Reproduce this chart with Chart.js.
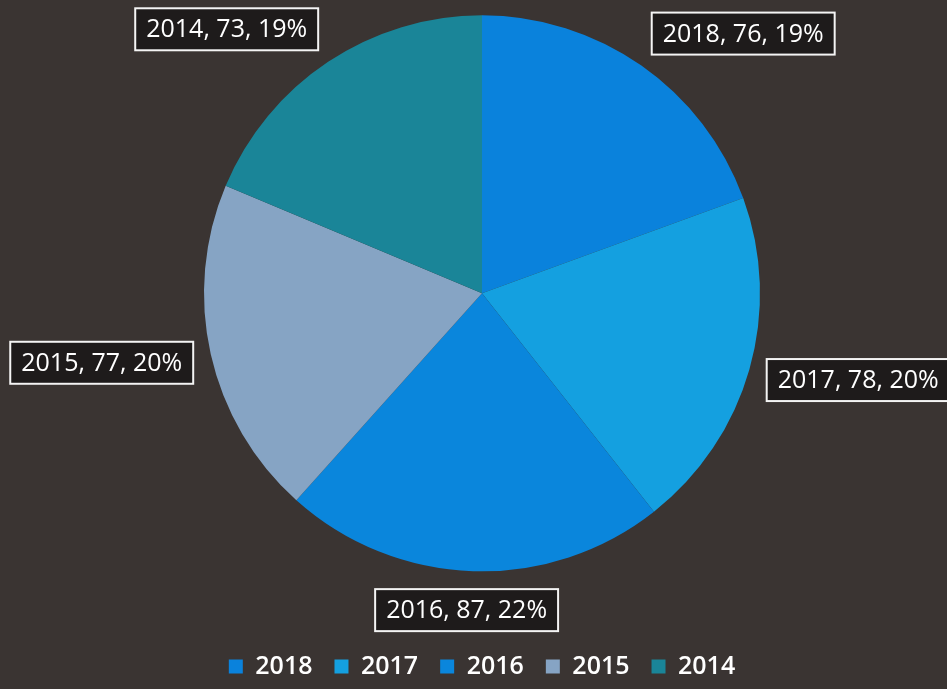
<!DOCTYPE html>
<html>
<head>
<meta charset="utf-8">
<script src="https://cdn.jsdelivr.net/npm/chart.js@4/dist/chart.umd.min.js"></script>
<style>
  html, body { margin: 0; padding: 0; background: #3a3432; }
  #wrap { width: 947px; height: 689px; }
</style>
</head>
<body>
<div id="wrap"><canvas id="pieChart" width="947" height="689"></canvas></div>
<script>
// data
const years = ['2018', '2017', '2016', '2015', '2014'];
const values = [76, 78, 87, 77, 73];
const sliceColors = ['#0a82dc', '#14a0e0', '#0a86dc', '#86a4c4', '#1a8598'];

const total = values.reduce((a, b) => a + b, 0);

// labels outside the pie, boxed
const outsideLabels = {
  id: 'outsideLabels',
  afterDatasetsDraw(chart) {
    const c = chart.ctx;
    const meta = chart.getDatasetMeta(0);
    c.save();
    c.font = '500 25px "Open Sans", sans-serif';
    c.textAlign = 'center';
    c.textBaseline = 'middle';
    meta.data.forEach((arc, i) => {
      const { x, y, startAngle, endAngle, outerRadius } = arc.getProps(['x', 'y', 'startAngle', 'endAngle', 'outerRadius'], true);
      const mid = (startAngle + endAngle) / 2;
      const cos = Math.cos(mid), sin = Math.sin(mid);
      const text = years[i] + ', ' + values[i] + ', ' + Math.round(values[i] / total * 100) + '%';
      const w = c.measureText(text).width + 22;
      const h = 42;
      const gap = 18;
      const ex = x + cos * outerRadius, ey = y + sin * outerRadius;
      const k = Math.max(-1, Math.min(1, cos * 2));
      const cx = ex + cos * gap + k * w / 2;
      const cy = ey + sin * gap + sin * h / 2;
      c.fillStyle = '#1e1b1b';
      c.fillRect(cx - w / 2, cy - h / 2, w, h);
      c.strokeStyle = '#f4f4f4';
      c.lineWidth = 2;
      c.strokeRect(cx - w / 2, cy - h / 2, w, h);
      c.fillStyle = '#ffffff';
      c.fillText(text, cx, cy + 1);
    });
    c.restore();
  }
};

const ctx = document.getElementById('pieChart').getContext('2d');
new Chart(ctx, {
  type: 'pie',
  data: {
    labels: years,
    datasets: [{
      data: values,
      backgroundColor: sliceColors,
      borderWidth: 0,
      radius: 278
    }]
  },
  options: {
    responsive: false,
    animation: false,
    layout: { padding: { top: 15, bottom: 0, left: 17, right: 0 } },
    plugins: {
      legend: {
        position: 'bottom',
        title: { display: true, text: '', padding: { top: 46, bottom: 0 } },
        labels: {
          color: '#ffffff',
          font: { family: '"Open Sans", sans-serif', size: 25, weight: '600' },
          boxWidth: 14,
          boxHeight: 14,
          padding: 22
        }
      },
      tooltip: { enabled: false }
    }
  },
  plugins: [outsideLabels]
});
</script>
</body>
</html>
